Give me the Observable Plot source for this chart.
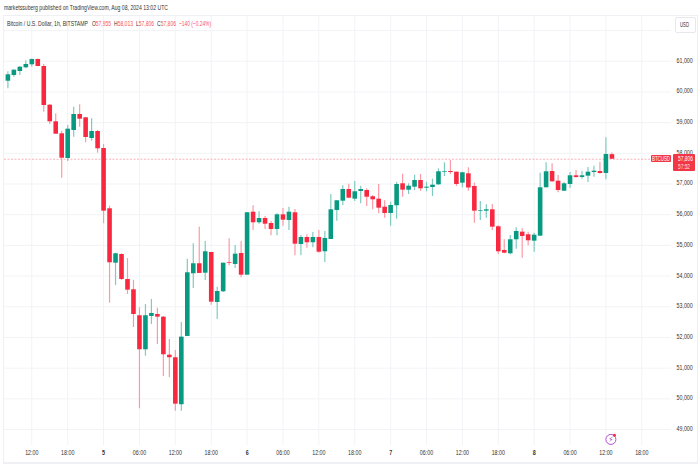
<!DOCTYPE html>
<html>
<head>
<meta charset="utf-8">
<script src="https://cdn.jsdelivr.net/npm/d3@7"></script>
<script src="https://cdn.jsdelivr.net/npm/@observablehq/plot@0.6"></script>
<style>
html,body{margin:0;padding:0;background:#fff;overflow:hidden;width:700px;height:466px;}
body{position:relative;font-family:"Liberation Sans",sans-serif;color:#131722;}
#top{height:15px;}
#box{position:absolute;left:3px;top:15px;width:693px;height:446px;border:1px solid #eef0f4;border-bottom:2px solid #eef0f4;pointer-events:none;}
.t{position:absolute;display:inline-block;white-space:nowrap;transform-origin:left center;font-size:7.6px;line-height:10px;color:#333;}
.rd{color:#f7525f;}
.w{color:#fff;}
#usd{position:absolute;left:675px;top:17px;width:19px;height:14px;border:1px solid #e6e8ee;border-radius:2px;background:#fff;}
.tag{position:absolute;background:#f23645;border-radius:1px;}
svg{display:block;}
</style>
</head>
<body>
<div id="top"></div>
<div id="chart"></div>
<div id="box"></div>
<span class="t" data-w="164" style="left:4px;top:3px;font-size:8px">marketssuberg published on TradingView.com, Aug 08, 2024 13:02 UTC</span>
<span class="t" data-w="81" style="left:7px;top:19px">Bitcoin / U.S. Dollar, 1h, BITSTAMP</span>
<span class="t" data-w="19" style="left:92px;top:19px">O<span class="rd">57,955</span></span>
<span class="t" data-w="19" style="left:114px;top:19px">H<span class="rd">58,013</span></span>
<span class="t" data-w="18" style="left:136px;top:19px">L<span class="rd">57,806</span></span>
<span class="t" data-w="19" style="left:157px;top:19px">C<span class="rd">57,806</span></span>
<span class="t rd" data-w="32" style="left:179px;top:19px">−140 (−0.24%)</span>
<div id="usd"></div>
<span class="t" data-w="9" style="left:680px;top:20px">USD</span>
<div class="tag" style="left:651px;top:155px;width:20px;height:7px"></div>
<div class="tag" style="left:673px;top:154px;width:22px;height:17px"></div>
<span class="t w" data-w="18" style="left:652px;top:155px;line-height:7px">BTCUSD</span>
<span class="t w" data-w="15" style="left:677.5px;top:154.5px;line-height:7.5px">57,806</span>
<span class="t w" data-w="12" style="left:677.5px;top:162.5px;line-height:7.5px;opacity:.85">57:52</span>
<script>
const firstHour = "2024-08-04T08:00:00Z";
const open = [60348,60534,60664,60785,60883,61055,60827,59567,59026,58635,57830,58742,59264,59156,58482,58710,58156,56192,54420,54703,53889,53554,52707,51599,52684,52749,52661,51423,51339,49808,52033,54075,54401,54094,54768,53140,53488,54433,54378,54736,54029,56081,55736,55876,55713,55518,55996,55811,56062,55029,55257,55085,55257,54791,55192,56137,56440,56821,56505,56756,56788,56583,56505,56244,56039,56290,57007,56798,56896,57114,56863,56886,56974,57384,57407,57384,57026,57332,56918,56114,56114,56159,55606,54834,54726,55182,55430,55345,55137,55300,56876,57407,57091,56765,56984,57267,57212,57254,57374,57407,57342,57955];
const high = [60655,60720,60827,61013,61070,61070,60892,59590,59286,58720,58905,59502,59580,59176,59124,58742,58287,56277,54746,54726,54573,53857,52967,53075,53238,52954,52684,51935,51576,52488,54550,55052,55593,55127,54778,53638,54420,55215,54997,55127,56072,56290,56094,55941,55788,56029,56202,56244,56169,55322,55345,55420,55485,55453,56658,56453,56941,56993,57081,56928,56843,56625,56984,56453,56407,57049,57319,57007,57286,57309,57059,57156,57495,57690,57765,57384,57384,57528,57032,56430,56322,56332,55638,55182,55322,55573,55540,55430,55397,57351,57690,57658,57277,57049,57374,57440,57407,57537,57580,57710,58505,58013];
const low = [60101,60479,60534,60752,60804,60817,59339,58938,58622,57189,57733,58524,58850,58342,58394,58003,55704,53117,53694,53857,53401,52325,49677,51391,52423,51772,50730,50697,49599,49599,52033,53596,54085,53857,53052,52586,53466,54335,54247,53944,54029,55485,55690,55518,55313,55313,55625,55485,54661,54661,54909,54922,54746,54443,55192,55788,56300,56518,56430,56355,56267,56160,56029,55886,55625,55853,56570,56658,56788,56756,56746,56593,56951,57244,57309,56919,56876,56765,55723,55811,55886,55485,54703,54726,54694,54876,54583,54987,54778,55300,56876,57049,56713,56756,56853,57189,57156,57049,57221,57319,57137,57806];
const close = [60557,60707,60804,60892,61055,60827,59557,59026,58622,57840,58785,59264,59111,58515,58710,58146,56114,54433,54726,53889,53541,52749,51599,52707,52782,52661,51436,51339,49827,52010,54107,54401,54085,54791,53150,53498,54420,54410,54713,54029,56062,55736,55876,55690,55518,55996,55821,56081,55039,55257,55085,55257,54778,55225,56159,56453,56821,56537,56746,56821,56570,56485,56212,56039,56300,56984,56798,56928,57114,56843,56896,56961,57397,57407,57374,56984,57365,56870,56114,56137,56159,55593,54791,54746,55182,55453,55290,55150,55332,56876,57397,57072,56788,57006,57267,57212,57267,57384,57417,57342,57961,57806];
const priceLabels = [49000,50000,51000,52000,53000,54000,55000,56000,57000,58000,59000,60000,61000];
const priceGrid = [...priceLabels, 62000];
const hourLabels = ["2024-08-04T12:00Z","2024-08-04T18:00Z","2024-08-05T06:00Z","2024-08-05T12:00Z","2024-08-05T18:00Z","2024-08-06T06:00Z","2024-08-06T12:00Z","2024-08-06T18:00Z","2024-08-07T06:00Z","2024-08-07T12:00Z","2024-08-07T18:00Z","2024-08-08T06:00Z","2024-08-08T12:00Z","2024-08-08T18:00Z"].map(s=>new Date(s));
const dayLabels = ["2024-08-05T00:00Z","2024-08-06T00:00Z","2024-08-07T00:00Z","2024-08-08T00:00Z"].map(s=>new Date(s));
const lastClose = 57806;
const ideaMark = {t:new Date("2024-08-08T12:50Z"), price:48678};
const xDomain = [new Date("2024-08-04T07:26Z"), new Date("2024-08-08T22:58Z")];
const yDomain = [48480, 62489];
const up = "#089981", down = "#f7283f";

const t0 = new Date(firstHour).getTime();
const candles = open.map((o,i)=>({t:new Date(t0+i*3600000), o, h:high[i], l:low[i], c:close[i], dir:close[i]>=o?"up":"down"}));

const chart = Plot.plot({
  width:700, height:451,
  marginLeft:4, marginRight:29, marginTop:0, marginBottom:21,
  style:{fontFamily:'"Liberation Sans",sans-serif', fontSize:"7.6px", color:"#333", background:"transparent"},
  x:{type:"utc", domain:xDomain},
  y:{domain:yDomain},
  color:{domain:["up","down"], range:[up,down]},
  marks:[
    Plot.gridY(priceGrid,{stroke:"#f2f3f6", strokeOpacity:1}),
    Plot.gridX([...hourLabels,...dayLabels],{stroke:"#f2f3f6", strokeOpacity:1}),
    Plot.axisY(priceLabels,{anchor:"right", tickSize:0, tickPadding:5, dy:-1, label:null, tickFormat:d3.format(",")}),
    Plot.axisX(hourLabels,{anchor:"bottom", tickSize:0, tickPadding:4, label:null, tickFormat:d=>d3.utcFormat("%H:%M")(d)}),
    Plot.axisX(dayLabels,{anchor:"bottom", tickSize:0, tickPadding:4, label:null, fontWeight:700, tickFormat:d=>String(d.getUTCDate())}),
    Plot.ruleY([lastClose],{stroke:down, strokeOpacity:.45, strokeDasharray:"2,1.5", strokeWidth:.8}),
    Plot.ruleX(candles.filter(d=>d.dir==="up"),{x:"t", y1:"l", y2:"h", stroke:"#7fcbbd", strokeWidth:1.2}),
    Plot.ruleX(candles.filter(d=>d.dir==="down"),{x:"t", y1:"l", y2:"h", stroke:"#fb9aa6", strokeWidth:1.2}),
    Plot.ruleX(candles,{x:"t", y1:"o", y2:"c", stroke:"dir", strokeWidth:4.6}),
    Plot.dot([ideaMark],{x:"t", y:"price", r:5, stroke:"#b04fd6", strokeWidth:1, fill:"#fff"}),
    Plot.text([ideaMark],{x:"t", y:"price", text:()=>"⚡", fill:"#9c36c9", fontSize:7.5, fontFamily:"DejaVu Sans"}),
    Plot.dot([ideaMark],{x:"t", y:"price", r:1.5, fill:down, dx:3.6, dy:-4.2})
  ]
});
document.getElementById("chart").appendChild(chart);
// condense axis labels to the narrow look of the reference
chart.querySelectorAll('g[aria-label$="tick label"] text').forEach(t=>{
  const n = t.getComputedTextLength();
  t.setAttribute("lengthAdjust","spacingAndGlyphs");
  t.setAttribute("textLength", n*0.7);
});
document.querySelectorAll(".t").forEach(el=>{
  const k = +el.dataset.w / el.getBoundingClientRect().width;
  el.style.transform = `scaleX(${k})`;
});
</script>
</body>
</html>
